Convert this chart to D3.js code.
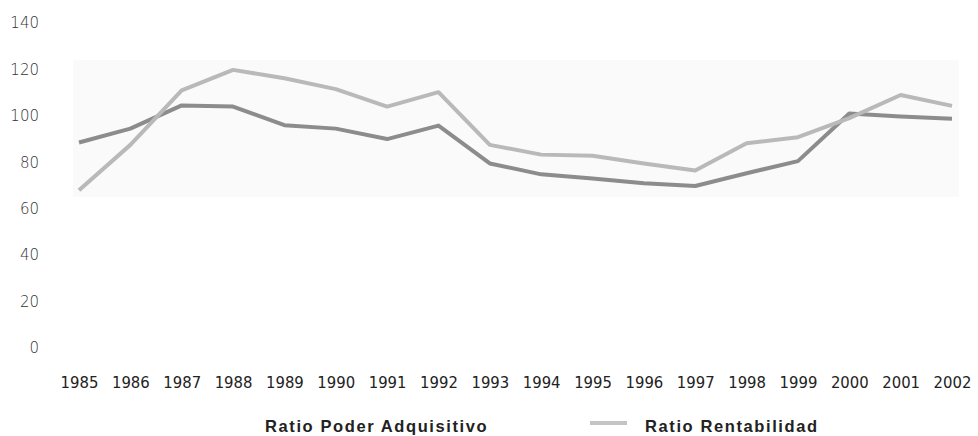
<!DOCTYPE html>
<html>
<head>
<meta charset="utf-8">
<script src="https://cdn.jsdelivr.net/npm/d3@7"></script>
<style>
  body { margin: 0; background: #fff; }
  svg { display: block; }
</style>
</head>
<body>
<div id="chart"></div>
<script>
const years = [1985, 1986, 1987, 1988, 1989, 1990, 1991, 1992, 1993, 1994, 1995, 1996, 1997, 1998, 1999, 2000, 2001, 2002];
const poderAdquisitivo = [88.5, 94.5, 104.5, 104, 96, 94.5, 90, 95.8, 79.5, 74.8, 73, 71, 69.8, 75.3, 80.5, 101, 99.7, 98.8];
const rentabilidad = [68, 87.5, 111, 119.8, 116.2, 111.5, 104, 110.2, 87.5, 83.3, 82.8, 79.5, 76.5, 88.2, 90.8, 99, 109, 104.3];
const yTicks = [0, 20, 40, 60, 80, 100, 120, 140];
const bandRange = [65, 124];
const seriesNames = ['Ratio Poder Adquisitivo', 'Ratio Rentabilidad'];

const width = 978;
const height = 436;

const svg = d3.select('#chart').append('svg').attr('width', width).attr('height', height);

const x = d3.scalePoint().domain(years).range([79, 952]);
const y = d3.scaleLinear().domain([0, 140]).range([348, 23]);

// faint shaded band behind the lines
svg.append('rect')
  .attr('x', 73)
  .attr('width', 886)
  .attr('y', y(bandRange[1]))
  .attr('height', y(bandRange[0]) - y(bandRange[1]))
  .attr('fill', '#fafafa');

// y axis labels
const yAxis = svg.append('g')
  .attr('transform', 'translate(39,0)')
  .call(d3.axisLeft(y).tickValues(yTicks).tickSize(0).tickPadding(0));
yAxis.select('.domain').remove();
yAxis.selectAll('text')
  .attr('font-family', 'DejaVu Sans, sans-serif')
  .attr('font-weight', 200)
  .attr('font-size', 15)
  .attr('fill', '#333');

// x axis labels
const xAxis = svg.append('g')
  .attr('transform', 'translate(0,373)')
  .call(d3.axisBottom(x).tickSize(0).tickPadding(0));
xAxis.select('.domain').remove();
xAxis.selectAll('text')
  .attr('dy', '0.9em')
  .attr('font-family', 'Liberation Sans Narrow, DejaVu Sans Condensed, sans-serif')
  .attr('font-size', 16.5)
  .attr('fill', '#222');

const line = d3.line()
  .x((d, i) => x(years[i]))
  .y((d) => y(d));

svg.append('path')
  .datum(poderAdquisitivo)
  .attr('fill', 'none')
  .attr('stroke', '#8c8c8c')
  .attr('stroke-width', 4)
  .attr('stroke-linejoin', 'round')
  .attr('d', line);

svg.append('path')
  .datum(rentabilidad)
  .attr('fill', 'none')
  .attr('stroke', '#b9b9b9')
  .attr('stroke-width', 4)
  .attr('stroke-linejoin', 'round')
  .attr('d', line);

// legend
const legend = svg.append('g').attr('font-family', 'Liberation Sans, Arial, sans-serif')
  .attr('font-size', 16.5).attr('font-weight', 'bold').attr('fill', '#222')
  .attr('letter-spacing', 1.6);

legend.append('text').attr('x', 265).attr('y', 432).text(seriesNames[0]);
legend.append('rect').attr('x', 590).attr('y', 421).attr('width', 37).attr('height', 4).attr('fill', '#c4c4c4');
legend.append('text').attr('x', 645).attr('y', 432).text(seriesNames[1]);
</script>
</body>
</html>
